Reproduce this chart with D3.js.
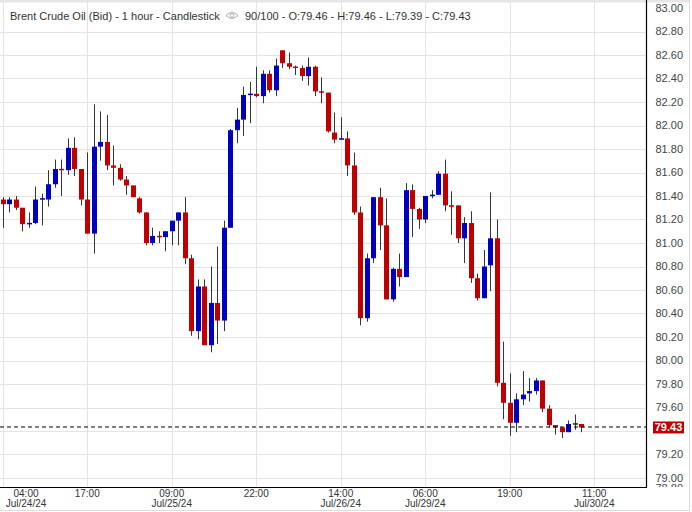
<!DOCTYPE html>
<html><head><meta charset="utf-8">
<script src="https://cdn.jsdelivr.net/npm/d3@7"></script>
<style>body{margin:0;background:#fff;} svg{display:block;font-family:Arial,"Liberation Sans",sans-serif;}</style>
</head><body><svg id="c" width="692" height="512"></svg>
<script>
const opens  = [81.37,81.33,81.37,81.30,81.16,81.17,81.37,81.37,81.50,81.63,81.62,81.81,81.63,81.37,81.08,81.82,81.86,81.66,81.64,81.54,81.49,81.38,81.26,81.00,81.06,81.05,81.10,81.19,81.26,80.87,80.25,80.63,80.13,80.49,80.34,81.13,81.96,82.05,82.26,82.27,82.25,82.44,82.30,82.64,82.53,82.50,82.49,82.42,82.50,82.29,82.28,81.94,81.88,81.89,81.66,81.26,80.36,80.87,81.39,81.15,80.52,80.78,80.71,81.45,81.29,81.20,81.40,81.41,81.59,81.32,81.32,81.04,81.17,80.70,80.53,80.81,81.04,79.81,79.64,79.47,79.67,79.72,79.74,79.83,79.59,79.45,79.43,79.39,79.46,79.46];
const highs  = [81.39,81.39,81.40,81.30,81.26,81.48,81.42,81.62,81.71,81.71,81.89,81.90,81.63,81.77,82.18,82.12,82.09,81.83,81.67,81.57,81.49,81.39,81.26,81.13,81.10,81.10,81.19,81.26,81.39,80.90,80.69,80.69,80.80,80.97,81.19,81.97,82.15,82.33,82.37,82.50,82.47,82.47,82.57,82.64,82.62,82.51,82.51,82.58,82.51,82.41,82.28,82.11,82.07,81.95,81.77,81.31,80.91,81.39,81.47,81.38,80.79,80.91,81.51,81.50,81.30,81.40,81.45,81.61,81.71,81.44,81.32,81.22,81.27,80.74,80.94,81.43,81.20,80.16,79.89,79.72,79.91,79.85,79.85,79.83,79.62,79.45,79.43,79.49,79.54,79.46];
const lows   = [81.13,81.26,81.28,81.10,81.13,81.16,81.15,81.31,81.47,81.40,81.58,81.57,81.32,81.08,80.91,81.70,81.62,81.49,81.53,81.41,81.39,81.25,80.98,80.98,81.00,80.93,80.98,80.98,80.82,80.21,80.18,80.13,80.07,80.14,80.25,81.13,81.85,81.91,82.02,82.24,82.19,82.28,82.25,82.49,82.48,82.43,82.38,82.34,82.25,82.19,81.94,81.85,81.88,81.57,81.24,80.30,80.33,80.83,80.94,80.52,80.50,80.63,80.71,81.05,81.12,81.17,81.38,81.41,81.27,81.07,81.00,80.83,80.66,80.51,80.53,80.59,79.78,79.50,79.36,79.39,79.62,79.65,79.71,79.56,79.43,79.37,79.34,79.39,79.41,79.39];
const closes = [81.33,81.37,81.30,81.16,81.17,81.37,81.38,81.50,81.63,81.62,81.81,81.63,81.37,81.08,81.82,81.86,81.66,81.64,81.54,81.49,81.39,81.26,81.00,81.06,81.05,81.10,81.19,81.26,80.87,80.25,80.63,80.13,80.49,80.34,81.13,81.96,82.05,82.26,82.27,82.25,82.44,82.30,82.51,82.53,82.50,82.49,82.42,82.50,82.29,82.28,81.95,81.88,81.89,81.66,81.26,80.36,80.87,81.39,81.15,80.52,80.78,80.71,81.45,81.29,81.20,81.40,81.41,81.59,81.32,81.31,81.04,81.17,80.70,80.53,80.80,81.04,79.81,79.64,79.47,79.67,79.71,79.74,79.83,79.59,79.45,79.43,79.39,79.46,79.46,79.43];

const xTickIndex = [0,13,26,39,52,65,78,91];
const xTickTime  = ["04:00","17:00","09:00","22:00","14:00","06:00","19:00","11:00"];
const xTickDate  = ["Jul/24/24","","Jul/25/24","","Jul/26/24","Jul/29/24","","Jul/30/24"];
const yGridTicks = [79.0,79.2,79.4,79.6,79.8,80.0,80.2,80.4,80.6,80.8,81.0,81.2,81.4,81.6,81.8,82.0,82.2,82.4,82.6,82.8];
const yLabelTicks = [79.0,79.2,79.6,79.8,80.0,80.2,80.4,80.6,80.8,81.0,81.2,81.4,81.6,81.8,82.0,82.2,82.4,82.6,82.8,83.0];
const lastPrice = 79.43;
const titleText = "Brent Crude Oil (Bid) - 1 hour - Candlestick";
const infoText = "90/100 - O:79.46 - H:79.46 - L:79.39 - C:79.43";

const svg = d3.select("#c");
const plotRight = 646, plotBottom = 487;
const x = d3.scaleLinear().domain([0, 99]).range([2.7, 646.2]);
const y = d3.scaleLinear().domain([79, 83]).range([478, 8]);
const crisp = v => Math.round(v) + 0.5;

// outer border
svg.append("rect").attr("x",0).attr("y",0).attr("width",690).attr("height",2.5).attr("fill","#e6e6e6");
svg.append("path").attr("d", `M689.5,0V510.5H0`).attr("fill","none").attr("stroke","#dcdcdc").attr("stroke-width",1);

// grid
const grid = svg.append("g");
grid.selectAll("line.h").data(yGridTicks).join("line")
  .attr("x1",0).attr("x2",plotRight).attr("y1",d=>crisp(y(d))).attr("y2",d=>crisp(y(d)))
  .attr("stroke","#e3e3e3").attr("stroke-width",1);
grid.selectAll("line.v").data(xTickIndex).join("line")
  .attr("x1",d=>crisp(x(d))).attr("x2",d=>crisp(x(d))).attr("y1",2).attr("y2",plotBottom)
  .attr("stroke","#e3e3e3").attr("stroke-width",1);

// header
const hdr = svg.append("g").attr("font-size",11).attr("fill","#333");
hdr.append("text").attr("x",10).attr("y",19.5).text(titleText);
const eye = svg.append("g").attr("transform","translate(232,15.5)");
eye.append("path").attr("d","M-6,0 Q0,-6 6,0 Q0,6 -6,0 Z").attr("fill","none").attr("stroke","#999").attr("stroke-width",0.8);
eye.append("circle").attr("r",1.8).attr("fill","none").attr("stroke","#999").attr("stroke-width",0.8);
hdr.append("text").attr("x",245).attr("y",19.5).text(infoText);

// candles
const data = opens.map((o,i)=>({i,o,h:highs[i],l:lows[i],c:closes[i]}));
const cg = svg.append("g");
cg.selectAll("line.w").data(data).join("line")
  .attr("x1",d=>crisp(x(d.i))).attr("x2",d=>crisp(x(d.i)))
  .attr("y1",d=>y(d.h)).attr("y2",d=>y(d.l))
  .attr("stroke","#2e3838").attr("stroke-width",1);
const colorOf = d => d.c > d.o ? "#0000c0" : (d.c < d.o ? "#c00000" : "#222");
cg.selectAll("rect").data(data).join("rect")
  .attr("x",d=>Math.round(x(d.i))-2)
  .attr("width",5)
  .attr("y",d=>{const t=y(Math.max(d.o,d.c)), b=y(Math.min(d.o,d.c)); return (b-t<1.5)?(t+b)/2-0.75:t;})
  .attr("height",d=>Math.max(1.5, y(Math.min(d.o,d.c))-y(Math.max(d.o,d.c))))
  .attr("fill",colorOf);

// last price dashed line
svg.append("line").attr("x1",0).attr("x2",plotRight)
  .attr("y1",crisp(y(lastPrice))-0.5).attr("y2",crisp(y(lastPrice))-0.5)
  .attr("stroke","#000").attr("stroke-width",1).attr("stroke-dasharray","4,3");

// axes lines
svg.append("line").attr("x1",plotRight+0.5).attr("x2",plotRight+0.5).attr("y1",0).attr("y2",plotBottom+1).attr("stroke","#000").attr("stroke-width",1.2);
svg.append("line").attr("x1",0).attr("x2",plotRight+1).attr("y1",plotBottom+0.5).attr("y2",plotBottom+0.5).attr("stroke","#000").attr("stroke-width",1.2);

// right axis labels
svg.append("clipPath").attr("id","yclip").append("rect").attr("x",647).attr("y",0).attr("width",45).attr("height",487);
const ya = svg.append("g").attr("clip-path","url(#yclip)").attr("font-size",11).attr("fill","#444").attr("text-anchor","end");
ya.selectAll("text").data(yLabelTicks).join("text")
  .attr("x",683).attr("y",d=>y(d)).attr("dy","0.35em").text(d=>d.toFixed(2));
// partially hidden next label peeking under the axis
ya.append("text").attr("x",683).attr("y",y(79)+10).attr("dy","0.35em").text((78.8).toFixed(2));

// last price label
const ly = y(lastPrice);
svg.append("rect").attr("x",653).attr("y",ly-6).attr("width",31).attr("height",12).attr("fill","#c00000");
svg.append("text").attr("x",668.5).attr("y",ly).attr("dy","0.35em").attr("text-anchor","middle")
  .attr("font-size",11).attr("font-weight","bold").attr("fill","#fff").text(lastPrice.toFixed(2));

// bottom axis labels
const xa = svg.append("g").attr("font-size",10).attr("fill","#333").attr("text-anchor","middle");
xTickIndex.forEach((idx,k)=>{
  let cx = x(idx);
  if (cx < 26) cx = 26;
  xa.append("text").attr("x",cx).attr("y",497).text(xTickTime[k]);
  if (xTickDate[k]) xa.append("text").attr("x",cx).attr("y",506.5).text(xTickDate[k]);
});
</script></body></html>
